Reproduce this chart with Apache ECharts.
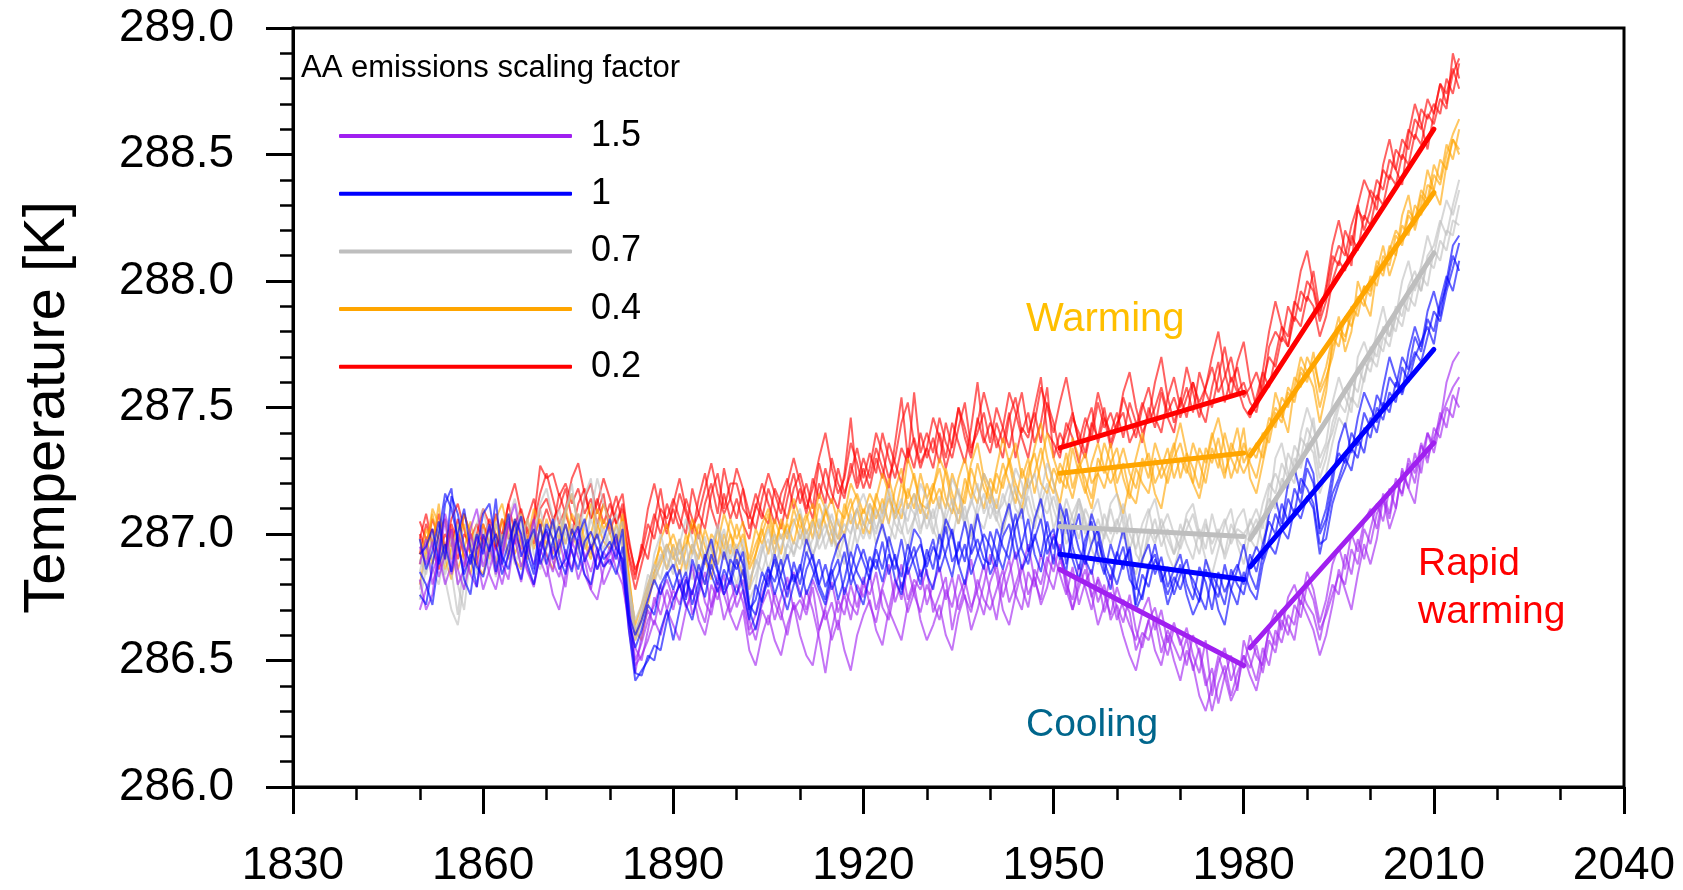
<!DOCTYPE html>
<html>
<head>
<meta charset="utf-8">
<script src="https://cdn.jsdelivr.net/npm/echarts@6/dist/echarts.min.js"></script>
<style>
html, body { margin: 0; padding: 0; background: #ffffff; }
#chart { width: 1683px; height: 890px; }
</style>
</head>
<body>
<div id="chart"></div>
<script>
const FONT = '"Liberation Sans", Arial, Helvetica, sans-serif';

// Annual global-mean surface temperature [K], 1850-2014, four ensemble members per
// anthropogenic-aerosol (AA) emissions scaling factor.
const startYear = 1850;
const scalingFactors = ['1.5', '1', '0.7', '0.4', '0.2'];
const factorColors = ['#a020f0', '#0000ff', '#bebebe', '#ffa500', '#ff0000'];

const aa15_m1 = [
  286.95, 286.88, 286.97, 286.83, 286.92, 287.02, 286.86, 286.78, 286.90, 286.99,
  286.87, 286.96, 286.84, 286.93, 287.05, 286.90, 286.81, 286.95, 286.88, 286.97,
  286.92, 286.85, 286.98, 286.87, 286.94, 286.82, 286.90, 286.96, 286.86, 286.93,
  286.88, 286.95, 286.90, 286.72, 286.50, 286.57, 286.66, 286.72, 286.80, 286.70,
  286.78, 286.72, 286.83, 286.68, 286.76, 286.85, 286.71, 286.79, 286.66, 286.74,
  286.80, 286.73, 286.60, 286.63, 286.72, 286.78, 286.66, 286.75, 286.83, 286.70,
  286.74, 286.68, 286.79, 286.62, 286.71, 286.81, 286.69, 286.76, 286.66, 286.80,
  286.75, 286.84, 286.70, 286.79, 286.88, 286.73, 286.81, 286.69, 286.77, 286.86,
  286.72, 286.80, 286.87, 286.74, 286.83, 286.70, 286.79, 286.90, 286.76, 286.68,
  286.81, 286.88, 286.75, 286.84, 286.93, 286.79, 286.71, 286.86, 286.80, 286.91,
  286.85, 286.96, 286.80, 286.74, 286.88, 286.79, 286.70, 286.83, 286.76, 286.68,
  286.79, 286.71, 286.64, 286.58, 286.69, 286.75, 286.62, 286.70, 286.57, 286.65,
  286.56, 286.63, 286.52, 286.45, 286.58, 286.36, 286.49, 286.55, 286.42, 286.50,
  286.47, 286.60, 286.52, 286.48, 286.63, 286.70, 286.62, 286.75, 286.80, 286.72,
  286.85, 286.78, 286.65, 286.74, 286.88, 286.95, 286.86, 287.00, 286.93, 287.05,
  287.10, 287.02, 287.16, 287.08, 287.22, 287.15, 287.28, 287.20, 287.35, 287.30,
  287.38, 287.45, 287.52, 287.58, 287.62
];
const aa15_m2 = [
  286.70, 286.78, 286.85, 286.92, 286.80, 286.88, 287.00, 286.93, 286.84, 286.79,
  286.95, 287.03, 286.89, 286.80, 286.92, 286.98, 286.87, 286.94, 287.06, 286.90,
  286.83, 286.95, 286.88, 286.79, 286.97, 286.91, 286.84, 286.78, 286.92, 286.87,
  286.95, 286.86, 286.80, 286.65, 286.55, 286.50, 286.62, 286.75, 286.68, 286.78,
  286.70, 286.82, 286.75, 286.88, 286.72, 286.65, 286.80, 286.74, 286.84, 286.69,
  286.76, 286.82, 286.66, 286.58, 286.70, 286.64, 286.77, 286.69, 286.60, 286.73,
  286.66, 286.78, 286.70, 286.59, 286.45, 286.62, 286.74, 286.68, 286.80, 286.71,
  286.83, 286.72, 286.65, 286.78, 286.70, 286.82, 286.74, 286.87, 286.76, 286.69,
  286.80, 286.73, 286.66, 286.78, 286.71, 286.84, 286.75, 286.69, 286.82, 286.74,
  286.70, 286.78, 286.86, 286.73, 286.80, 286.88, 286.76, 286.83, 286.72, 286.79,
  286.92, 286.84, 286.76, 286.87, 286.72, 286.81, 286.86, 286.73, 286.80, 286.66,
  286.72, 286.65, 286.76, 286.62, 286.55, 286.66, 286.71, 286.60, 286.52, 286.63,
  286.58, 286.48, 286.60, 286.53, 286.40, 286.47, 286.33, 286.44, 286.52, 286.38,
  286.58, 286.50, 286.42, 286.55, 286.48, 286.62, 286.57, 286.68, 286.64, 286.78,
  286.72, 286.68, 286.58, 286.70, 286.80, 286.76, 286.92, 286.84, 286.98, 286.90,
  287.02, 287.12, 287.05, 287.18, 287.10, 287.25, 287.18, 287.32, 287.24, 287.40,
  287.35, 287.48, 287.42, 287.55, 287.50
];
const aa15_m3 = [
  286.88, 286.98, 286.80, 286.90, 287.06, 286.84, 286.95, 286.87, 287.00, 286.91,
  286.78, 286.86, 286.95, 286.88, 286.82, 287.00, 286.93, 286.85, 286.79, 286.92,
  287.01, 286.89, 286.83, 286.94, 286.86, 286.98, 286.92, 286.85, 286.95, 286.80,
  286.86, 286.93, 286.84, 286.62, 286.45, 286.60, 286.70, 286.64, 286.76, 286.82,
  286.74, 286.80, 286.71, 286.77, 286.85, 286.73, 286.68, 286.81, 286.76, 286.83,
  286.71, 286.78, 286.62, 286.68, 286.76, 286.84, 286.73, 286.66, 286.79, 286.85,
  286.77, 286.70, 286.82, 286.75, 286.66, 286.73, 286.62, 286.79, 286.72, 286.68,
  286.80, 286.76, 286.85, 286.71, 286.66, 286.79, 286.88, 286.74, 286.82, 286.78,
  286.86, 286.69, 286.76, 286.83, 286.62, 286.75, 286.82, 286.71, 286.78, 286.88,
  286.77, 286.66, 286.82, 286.90, 286.76, 286.70, 286.85, 286.79, 286.92, 286.84,
  286.78, 286.90, 286.83, 286.70, 286.79, 286.86, 286.75, 286.82, 286.69, 286.77,
  286.66, 286.74, 286.69, 286.54, 286.61, 286.58, 286.67, 286.53, 286.62, 286.56,
  286.50, 286.59, 286.46, 286.55, 286.43, 286.30, 286.41, 286.48, 286.36, 286.45,
  286.52, 286.47, 286.56, 286.45, 286.58, 286.53, 286.66, 286.60, 286.72, 286.67,
  286.80, 286.74, 286.62, 286.68, 286.76, 286.84, 286.80, 286.94, 286.88, 287.02,
  286.96, 287.08, 287.14, 287.06, 287.20, 287.16, 287.30, 287.24, 287.36, 287.28,
  287.42, 287.38, 287.50, 287.46, 287.58
];
const aa15_m4 = [
  286.82, 286.70, 286.76, 286.95, 287.08, 286.98, 286.80, 286.86, 287.02, 287.10,
  286.96, 286.84, 286.78, 286.90, 287.04, 287.12, 286.98, 286.86, 286.80, 286.94,
  286.88, 286.76, 286.70, 286.84, 286.96, 287.02, 286.90, 286.78, 286.74, 286.86,
  286.92, 286.98, 286.88, 286.66, 286.48, 286.52, 286.58, 286.66, 286.60, 286.70,
  286.64, 286.58, 286.70, 286.78, 286.66, 286.60, 286.72, 286.84, 286.76, 286.68,
  286.62, 286.70, 286.54, 286.48, 286.60, 286.68, 286.58, 286.52, 286.64, 286.72,
  286.60, 286.52, 286.48, 286.62, 286.70, 286.58, 286.66, 286.54, 286.46, 286.60,
  286.68, 286.74, 286.62, 286.56, 286.70, 286.64, 286.58, 286.72, 286.80, 286.66,
  286.58, 286.64, 286.72, 286.60, 286.54, 286.68, 286.76, 286.62, 286.70, 286.80,
  286.92, 286.84, 286.70, 286.64, 286.76, 286.86, 286.96, 286.82, 286.74, 286.88,
  287.00, 286.94, 286.78, 286.70, 286.82, 286.90, 286.76, 286.64, 286.72, 286.84,
  286.70, 286.60, 286.52, 286.46, 286.58, 286.66, 286.54, 286.48, 286.60, 286.50,
  286.42, 286.54, 286.48, 286.36, 286.30, 286.40, 286.52, 286.44, 286.34, 286.40,
  286.52, 286.44, 286.38, 286.50, 286.62, 286.56, 286.70, 286.64, 286.58, 286.74,
  286.68, 286.62, 286.52, 286.60, 286.72, 286.86, 286.78, 286.70, 286.84, 286.96,
  286.88, 286.98, 287.14, 287.02, 287.10, 287.26, 287.18, 287.12, 287.30, 287.40,
  287.32, 287.44, 287.60, 287.68, 287.72
];

const aa10_m1 = [
  286.98, 286.86, 286.93, 287.05, 286.90, 287.15, 287.08, 286.95, 286.88, 287.00,
  286.92, 287.04, 286.85, 286.97, 287.08, 286.90, 286.82, 286.96, 287.02, 286.88,
  286.95, 287.06, 286.91, 286.84, 286.98, 287.03, 286.89, 286.95, 286.86, 286.93,
  286.97, 286.90, 287.02, 286.70, 286.45, 286.44, 286.52, 286.50, 286.62, 286.70,
  286.58, 286.70, 286.82, 286.76, 286.88, 286.80, 286.92, 286.85, 286.78, 286.90,
  286.86, 286.93, 286.72, 286.68, 286.80, 286.87, 286.76, 286.84, 286.92, 286.81,
  286.88, 286.76, 286.83, 286.90, 286.79, 286.86, 286.74, 286.82, 286.93, 286.85,
  286.80, 286.91, 286.86, 286.97, 286.84, 286.92, 286.78, 286.88, 286.95, 286.83,
  286.90, 286.98, 286.85, 286.93, 287.02, 286.88, 286.96, 286.84, 286.92, 287.00,
  286.95, 286.87, 286.99, 287.04, 286.90, 286.96, 287.06, 286.92, 286.85, 286.98,
  287.02, 286.90, 287.10, 286.95, 286.86, 286.98, 287.05, 286.92, 286.84, 286.96,
  286.88, 286.95, 286.82, 286.78, 286.90, 286.96, 286.84, 286.91, 286.79, 286.86,
  286.92, 286.80, 286.74, 286.87, 286.81, 286.70, 286.85, 286.77, 286.83, 286.88,
  286.80, 286.92, 286.85, 286.96, 287.05, 287.00, 287.12, 287.05, 287.18, 287.12,
  287.26, 287.20, 287.02, 287.10, 287.24, 287.32, 287.28, 287.40, 287.35, 287.48,
  287.42, 287.55, 287.50, 287.62, 287.58, 287.70, 287.65, 287.78, 287.72, 287.85,
  287.80, 287.92, 288.02, 287.96, 288.08
];
const aa10_m2 = [
  286.85, 286.80, 286.72, 286.90, 287.12, 287.18, 286.96, 286.84, 286.92, 286.79,
  287.00, 286.93, 287.14, 286.88, 286.96, 287.05, 286.91, 286.98, 286.86, 287.04,
  286.88, 286.97, 287.03, 286.92, 286.85, 286.99, 287.06, 286.94, 287.00, 286.90,
  286.93, 287.00, 286.86, 286.65, 286.55, 286.62, 286.72, 286.68, 286.80, 286.85,
  286.78, 286.86, 286.74, 286.90, 286.82, 286.75, 286.88, 286.80, 286.93, 286.84,
  286.76, 286.86, 286.70, 286.74, 286.85, 286.79, 286.92, 286.83, 286.75, 286.89,
  286.80, 286.93, 286.86, 286.78, 286.72, 286.84, 286.90, 286.76, 286.85, 286.96,
  286.89, 286.82, 286.94, 286.86, 286.99, 286.90, 286.83, 286.96, 286.88, 286.80,
  286.94, 286.86, 287.00, 286.91, 286.83, 286.97, 286.89, 287.04, 286.93, 286.86,
  287.01, 286.93, 286.86, 286.97, 287.08, 286.94, 286.88, 287.00, 286.91, 287.05,
  286.94, 287.05, 286.88, 286.99, 287.08, 286.90, 286.84, 286.97, 286.89, 286.82,
  286.93, 286.86, 286.95, 286.80, 286.74, 286.88, 286.92, 286.81, 286.87, 286.76,
  286.84, 286.90, 286.79, 286.73, 286.86, 286.80, 286.75, 286.88, 286.78, 286.72,
  286.85, 286.78, 286.74, 286.88, 286.96, 286.92, 287.02, 286.98, 287.10, 287.06,
  287.15, 287.10, 286.92, 287.04, 287.16, 287.22, 287.30, 287.25, 287.38, 287.32,
  287.46, 287.40, 287.52, 287.48, 287.60, 287.55, 287.64, 287.72, 287.68, 287.78,
  287.88, 287.84, 287.96, 288.05, 288.15
];
const aa10_m3 = [
  286.92, 286.95, 287.02, 286.88, 286.96, 286.85, 287.00, 287.10, 286.94, 286.87,
  286.83, 286.94, 287.00, 286.91, 286.86, 286.99, 287.07, 286.92, 286.84, 286.96,
  287.02, 286.90, 286.95, 287.04, 286.93, 286.86, 286.97, 287.01, 286.94, 286.87,
  286.90, 286.84, 286.95, 286.68, 286.60, 286.66, 286.74, 286.82, 286.76, 286.84,
  286.88, 286.79, 286.85, 286.72, 286.81, 286.92, 286.84, 286.77, 286.86, 286.80,
  286.90, 286.78, 286.66, 286.80, 286.73, 286.86, 286.81, 286.90, 286.78, 286.84,
  286.75, 286.86, 286.92, 286.80, 286.88, 286.78, 286.84, 286.93, 286.80, 286.87,
  286.94, 286.85, 286.90, 286.81, 286.92, 286.86, 286.98, 286.84, 286.91, 286.96,
  286.87, 286.95, 286.90, 287.03, 286.89, 286.94, 287.05, 286.92, 286.98, 286.90,
  286.88, 287.02, 286.95, 286.90, 287.03, 287.10, 286.93, 286.98, 287.06, 286.92,
  286.99, 286.93, 286.85, 287.04, 286.94, 286.88, 286.96, 287.02, 286.91, 286.87,
  286.80, 286.89, 286.94, 286.72, 286.84, 286.79, 286.90, 286.85, 286.76, 286.83,
  286.78, 286.86, 286.82, 286.76, 286.70, 286.84, 286.79, 286.72, 286.86, 286.80,
  286.76, 286.88, 286.95, 286.90, 286.98, 287.08, 287.02, 287.14, 287.08, 287.22,
  287.18, 287.12, 286.96, 286.98, 287.12, 287.20, 287.26, 287.34, 287.30, 287.42,
  287.38, 287.50, 287.45, 287.56, 287.52, 287.66, 287.60, 287.70, 287.76, 287.82,
  287.75, 287.90, 287.98, 288.10, 288.04
];
const aa10_m4 = [
  286.76, 286.72, 286.88, 287.00, 287.16, 287.10, 286.98, 286.82, 286.76, 286.94,
  287.08, 287.12, 286.96, 286.84, 286.92, 287.06, 287.00, 286.88, 286.80, 286.92,
  287.04, 286.98, 286.86, 286.90, 287.02, 286.96, 286.84, 286.80, 286.92, 286.98,
  287.06, 286.94, 286.90, 286.62, 286.42, 286.46, 286.50, 286.56, 286.54, 286.66,
  286.74, 286.80, 286.72, 286.66, 286.78, 286.90, 286.98, 286.86, 286.76, 286.82,
  286.94, 286.88, 286.70, 286.62, 286.74, 286.82, 286.90, 286.78, 286.70, 286.80,
  286.86, 286.98, 286.90, 286.80, 286.74, 286.88, 286.96, 287.00, 286.86, 286.78,
  286.72, 286.84, 286.96, 287.04, 286.94, 286.82, 286.76, 286.90, 287.02, 286.98,
  286.84, 286.78, 286.92, 287.06, 287.00, 286.88, 286.80, 286.94, 287.08, 286.96,
  286.84, 286.90, 287.04, 287.12, 286.98, 286.86, 286.92, 287.06, 287.14, 287.00,
  286.88, 287.12, 287.04, 286.90, 286.82, 286.94, 287.08, 287.00, 286.86, 286.78,
  286.92, 287.02, 286.88, 286.70, 286.76, 286.86, 286.96, 286.84, 286.72, 286.80,
  286.88, 286.76, 286.68, 286.74, 286.90, 286.82, 286.70, 286.64, 286.78, 286.86,
  286.96, 286.84, 286.78, 286.92, 287.08, 287.14, 287.04, 287.20, 287.26, 287.16,
  287.30, 287.24, 287.00, 287.06, 287.20, 287.36, 287.44, 287.32, 287.46, 287.56,
  287.50, 287.44, 287.58, 287.70, 287.62, 287.56, 287.72, 287.82, 287.74, 287.88,
  287.96, 287.86, 288.00, 288.14, 288.18
];

const aa07_m1 = [
  286.90, 286.84, 286.96, 287.02, 286.88, 286.98, 286.80, 286.70, 286.92, 287.00,
  286.95, 286.88, 287.05, 286.97, 286.90, 287.02, 286.86, 286.94, 287.00, 287.10,
  286.98, 287.04, 286.92, 287.08, 287.20, 287.00, 286.94, 287.06, 286.98, 287.02,
  286.96, 287.03, 286.94, 286.80, 286.62, 286.68, 286.78, 286.84, 286.92, 286.86,
  286.95, 286.88, 286.96, 286.82, 286.92, 286.99, 286.86, 286.94, 287.02, 286.90,
  286.96, 286.88, 286.78, 286.84, 286.93, 286.98, 286.87, 286.95, 287.02, 286.91,
  287.00, 286.92, 286.98, 287.06, 286.94, 287.02, 286.90, 286.99, 287.08, 286.96,
  287.05, 286.98, 287.10, 287.02, 286.95, 287.08, 287.14, 287.00, 287.06, 287.12,
  287.02, 287.10, 286.98, 287.06, 287.14, 287.04, 287.11, 286.99, 287.08, 287.16,
  287.06, 287.14, 287.02, 287.10, 287.19, 287.08, 287.15, 287.05, 287.12, 287.20,
  287.10, 287.02, 287.14, 287.06, 286.98, 287.10, 287.04, 286.96, 287.08, 287.00,
  287.06, 286.98, 287.08, 286.92, 286.88, 287.02, 286.96, 287.06, 286.98, 286.92,
  287.04, 286.96, 286.90, 287.02, 286.94, 287.08, 286.98, 286.92, 287.04, 286.98,
  286.94, 287.06, 287.00, 287.12, 287.20, 287.16, 287.28, 287.22, 287.35, 287.30,
  287.42, 287.36, 287.22, 287.30, 287.44, 287.52, 287.48, 287.60, 287.56, 287.68,
  287.64, 287.76, 287.72, 287.84, 287.80, 287.92, 287.88, 288.00, 287.96, 288.08,
  288.05, 288.16, 288.12, 288.24, 288.22
];
const aa07_m2 = [
  286.78, 286.92, 286.86, 286.80, 286.95, 286.85, 286.68, 286.90, 286.98, 286.84,
  286.90, 286.98, 286.83, 286.92, 287.00, 286.88, 286.95, 287.06, 286.92, 286.86,
  286.94, 287.02, 287.10, 286.96, 287.04, 286.92, 287.15, 287.22, 287.00, 286.94,
  287.02, 286.95, 287.00, 286.78, 286.66, 286.72, 286.84, 286.80, 286.90, 286.96,
  286.86, 286.94, 286.88, 286.96, 286.84, 286.92, 286.98, 286.88, 286.94, 286.85,
  286.92, 286.98, 286.82, 286.88, 286.96, 286.86, 286.94, 287.00, 286.90, 286.97,
  286.94, 287.02, 286.92, 286.98, 287.04, 286.95, 287.06, 286.98, 286.92, 287.04,
  286.98, 287.06, 287.00, 287.12, 287.04, 286.98, 287.10, 287.05, 287.16, 287.02,
  287.08, 287.00, 287.12, 287.05, 286.98, 287.10, 287.04, 287.14, 287.06, 287.02,
  287.12, 287.05, 287.16, 287.08, 287.02, 287.14, 287.22, 287.10, 287.05, 287.16,
  287.02, 287.10, 287.00, 287.08, 287.14, 287.04, 286.96, 287.06, 286.98, 287.10,
  287.00, 287.08, 286.94, 287.02, 286.90, 286.98, 287.06, 286.95, 287.02, 286.92,
  286.98, 287.06, 287.00, 286.92, 287.04, 286.96, 287.02, 286.90, 286.98, 287.06,
  287.10, 286.98, 286.94, 287.06, 287.14, 287.10, 287.22, 287.18, 287.30, 287.26,
  287.36, 287.32, 287.16, 287.24, 287.36, 287.46, 287.42, 287.54, 287.50, 287.62,
  287.70, 287.66, 287.78, 287.74, 287.86, 287.82, 287.94, 287.90, 288.02, 287.98,
  288.12, 288.08, 288.20, 288.18, 288.30
];
const aa07_m3 = [
  286.85, 286.96, 286.90, 286.98, 286.84, 286.92, 287.04, 286.95, 286.88, 286.96,
  287.02, 286.94, 286.90, 287.00, 286.92, 286.98, 287.08, 286.96, 287.04, 286.95,
  287.00, 286.94, 287.06, 287.00, 286.96, 287.08, 287.02, 286.95, 287.06, 287.00,
  286.94, 287.00, 287.05, 286.76, 286.60, 286.70, 286.80, 286.88, 286.82, 286.94,
  286.90, 286.98, 286.84, 286.92, 287.00, 286.88, 286.95, 287.02, 286.90, 286.96,
  286.88, 286.95, 286.80, 286.90, 286.85, 286.94, 287.00, 286.88, 286.96, 286.92,
  287.02, 286.96, 287.05, 286.94, 287.00, 287.08, 286.98, 287.04, 287.00, 287.10,
  287.04, 287.12, 287.02, 287.08, 287.15, 287.04, 287.00, 287.12, 287.08, 287.00,
  287.12, 287.06, 287.15, 287.00, 287.10, 287.18, 287.06, 287.12, 287.20, 287.08,
  287.15, 287.08, 287.12, 287.20, 287.10, 287.06, 287.18, 287.24, 287.12, 287.08,
  287.15, 287.06, 287.10, 287.02, 287.12, 287.00, 287.08, 287.14, 287.02, 286.96,
  287.04, 287.12, 287.00, 286.94, 287.04, 287.10, 286.98, 287.02, 287.08, 287.00,
  286.94, 287.02, 287.08, 286.98, 287.06, 286.92, 287.00, 287.06, 286.96, 287.02,
  287.00, 287.04, 287.10, 287.02, 287.18, 287.24, 287.18, 287.32, 287.26, 287.38,
  287.34, 287.46, 287.26, 287.34, 287.40, 287.50, 287.58, 287.52, 287.66, 287.60,
  287.74, 287.70, 287.82, 287.78, 287.90, 287.86, 287.98, 288.04, 287.96, 288.10,
  288.14, 288.24, 288.18, 288.30, 288.40
];
const aa07_m4 = [
  286.74, 286.86, 287.00, 286.94, 286.82, 286.70, 286.64, 286.80, 286.92, 287.04,
  287.10, 286.98, 286.86, 286.94, 287.06, 287.14, 287.02, 286.92, 287.00, 287.12,
  287.18, 287.06, 286.98, 287.10, 287.16, 287.04, 286.96, 287.08, 287.22, 287.12,
  287.04, 287.08, 286.96, 286.74, 286.58, 286.64, 286.74, 286.92, 287.00, 286.90,
  286.84, 286.96, 287.06, 286.98, 286.86, 286.80, 286.92, 287.04, 286.96, 286.88,
  286.80, 286.90, 286.74, 286.80, 286.94, 287.02, 286.92, 286.84, 286.96, 287.04,
  287.10, 286.98, 286.90, 287.02, 287.12, 287.04, 286.94, 286.88, 287.00, 287.10,
  287.16, 287.08, 286.96, 287.06, 287.18, 287.10, 287.02, 286.94, 287.06, 287.20,
  287.14, 287.02, 286.96, 287.10, 287.22, 287.16, 287.04, 286.98, 287.12, 287.24,
  287.18, 287.06, 287.00, 287.14, 287.26, 287.20, 287.08, 287.02, 287.16, 287.28,
  287.20, 287.08, 286.96, 287.02, 287.14, 287.06, 286.94, 286.88, 287.00, 287.12,
  287.16, 287.04, 286.90, 286.84, 286.96, 287.08, 287.14, 287.02, 286.92, 286.86,
  286.96, 287.08, 287.12, 287.00, 286.90, 286.84, 286.94, 287.04, 287.10, 286.96,
  286.88, 287.00, 287.06, 286.96, 287.10, 287.30, 287.36, 287.24, 287.20, 287.40,
  287.50, 287.42, 287.30, 287.36, 287.52, 287.62, 287.54, 287.48, 287.70, 287.76,
  287.68, 287.80, 287.90, 287.78, 287.86, 288.00, 288.08, 287.96, 288.06, 288.18,
  288.10, 288.22, 288.32, 288.26, 288.36
];

const aa04_m1 = [
  286.88, 287.02, 286.95, 287.12, 286.90, 287.00, 286.86, 286.94, 287.05, 286.92,
  286.98, 286.90, 287.04, 286.95, 287.08, 286.92, 286.99, 287.06, 286.94, 287.02,
  286.96, 287.05, 286.98, 287.10, 287.00, 286.94, 287.04, 287.12, 286.98, 287.06,
  287.00, 286.94, 287.06, 286.82, 286.64, 286.72, 286.80, 286.88, 286.95, 286.86,
  286.96, 286.88, 287.00, 286.92, 287.04, 286.95, 286.88, 287.02, 286.94, 287.06,
  286.98, 287.05, 286.86, 286.92, 287.00, 287.08, 286.96, 287.04, 286.98, 287.10,
  287.02, 287.08, 286.98, 287.12, 287.04, 286.96, 287.10, 287.06, 287.14, 287.02,
  287.10, 287.04, 287.16, 287.08, 287.22, 287.12, 287.06, 287.18, 287.10, 287.24,
  287.14, 287.20, 287.10, 287.26, 287.16, 287.08, 287.22, 287.14, 287.28, 287.18,
  287.12, 287.24, 287.18, 287.30, 287.20, 287.14, 287.26, 287.32, 287.20, 287.16,
  287.26, 287.20, 287.32, 287.18, 287.28, 287.22, 287.14, 287.30, 287.24, 287.36,
  287.20, 287.28, 287.16, 287.12, 287.26, 287.32, 287.20, 287.26, 287.34, 287.22,
  287.30, 287.24, 287.36, 287.28, 287.20, 287.34, 287.26, 287.40, 287.30, 287.24,
  287.36, 287.28, 287.22, 287.34, 287.46, 287.42, 287.54, 287.50, 287.62, 287.58,
  287.70, 287.64, 287.50, 287.60, 287.74, 287.80, 287.76, 287.90, 287.86, 287.98,
  287.94, 288.06, 288.02, 288.14, 288.10, 288.22, 288.18, 288.30, 288.26, 288.38,
  288.36, 288.48, 288.44, 288.56, 288.52
];
const aa04_m2 = [
  286.98, 286.90, 287.08, 286.96, 286.86, 286.94, 287.04, 286.90, 286.84, 286.98,
  287.04, 286.94, 286.88, 287.00, 286.92, 287.06, 286.96, 286.90, 287.02, 286.95,
  287.06, 286.98, 286.92, 287.04, 286.96, 287.08, 286.98, 286.92, 287.04, 286.97,
  286.94, 287.04, 286.96, 286.75, 286.60, 286.68, 286.78, 286.85, 286.90, 286.96,
  286.90, 286.98, 286.86, 286.96, 286.90, 287.02, 286.94, 286.88, 287.00, 286.92,
  287.04, 286.94, 286.88, 286.96, 287.02, 286.92, 287.06, 286.98, 287.04, 286.96,
  287.08, 287.00, 287.06, 286.98, 287.10, 287.04, 286.98, 287.12, 287.04, 287.10,
  287.00, 287.12, 287.06, 287.14, 287.04, 287.18, 287.26, 287.10, 287.16, 287.08,
  287.20, 287.12, 287.18, 287.10, 287.24, 287.16, 287.12, 287.26, 287.18, 287.10,
  287.22, 287.16, 287.28, 287.20, 287.12, 287.26, 287.18, 287.24, 287.34, 287.22,
  287.16, 287.28, 287.22, 287.14, 287.26, 287.32, 287.20, 287.24, 287.18, 287.28,
  287.34, 287.22, 287.14, 287.26, 287.20, 287.16, 287.30, 287.22, 287.28, 287.36,
  287.22, 287.32, 287.26, 287.18, 287.34, 287.28, 287.38, 287.24, 287.32, 287.42,
  287.28, 287.34, 287.30, 287.40, 287.36, 287.48, 287.44, 287.56, 287.52, 287.64,
  287.60, 287.72, 287.56, 287.62, 287.70, 287.82, 287.78, 287.86, 287.94, 287.90,
  288.02, 287.98, 288.10, 288.06, 288.18, 288.14, 288.26, 288.22, 288.34, 288.30,
  288.42, 288.38, 288.50, 288.58, 288.64
];
const aa04_m3 = [
  286.92, 286.98, 286.88, 287.00, 287.06, 286.90, 286.96, 287.04, 286.92, 287.00,
  286.94, 287.02, 286.96, 287.06, 286.90, 287.00, 287.08, 286.94, 286.98, 287.06,
  287.00, 286.92, 287.04, 286.96, 287.08, 287.02, 286.94, 287.00, 287.10, 287.02,
  287.06, 286.98, 287.02, 286.78, 286.58, 286.66, 286.76, 286.82, 286.88, 286.94,
  287.00, 286.92, 286.96, 287.04, 286.94, 286.88, 287.00, 286.96, 286.90, 287.00,
  286.94, 287.00, 286.90, 287.02, 286.96, 287.04, 286.92, 287.06, 287.00, 287.06,
  286.98, 287.06, 287.12, 287.02, 287.08, 287.14, 287.04, 287.00, 287.10, 287.16,
  287.08, 287.16, 287.10, 287.04, 287.14, 287.08, 287.20, 287.14, 287.24, 287.12,
  287.10, 287.18, 287.26, 287.14, 287.08, 287.22, 287.30, 287.18, 287.12, 287.24,
  287.18, 287.10, 287.22, 287.28, 287.36, 287.22, 287.30, 287.16, 287.28, 287.40,
  287.30, 287.22, 287.18, 287.34, 287.24, 287.16, 287.28, 287.36, 287.26, 287.20,
  287.26, 287.34, 287.24, 287.18, 287.30, 287.22, 287.36, 287.28, 287.20, 287.30,
  287.36, 287.26, 287.20, 287.34, 287.28, 287.40, 287.30, 287.22, 287.36, 287.30,
  287.24, 287.30, 287.36, 287.30, 287.42, 287.50, 287.46, 287.58, 287.54, 287.66,
  287.62, 287.68, 287.58, 287.66, 287.78, 287.74, 287.86, 287.82, 287.90, 287.98,
  287.96, 288.08, 288.04, 288.12, 288.20, 288.16, 288.28, 288.24, 288.36, 288.32,
  288.46, 288.40, 288.54, 288.48, 288.60
];
const aa04_m4 = [
  286.80, 286.94, 287.10, 287.04, 286.90, 286.82, 286.96, 287.08, 287.00, 286.88,
  286.84, 286.96, 287.06, 287.12, 287.00, 286.90, 286.86, 286.98, 287.10, 287.04,
  286.92, 286.86, 286.98, 287.08, 287.16, 287.04, 286.96, 286.90, 287.02, 287.12,
  287.04, 286.96, 287.08, 286.84, 286.62, 286.58, 286.72, 286.84, 286.98, 287.04,
  286.92, 286.84, 286.94, 287.06, 287.00, 286.90, 286.82, 286.96, 287.08, 287.00,
  286.90, 286.84, 286.78, 286.92, 287.04, 287.10, 287.00, 286.92, 287.06, 287.14,
  287.06, 286.96, 287.04, 287.16, 287.10, 287.00, 286.94, 287.08, 287.20, 287.14,
  287.04, 287.00, 287.14, 287.24, 287.16, 287.06, 287.12, 287.30, 287.22, 287.12,
  287.06, 287.18, 287.30, 287.24, 287.12, 287.04, 287.16, 287.28, 287.36, 287.22,
  287.14, 287.26, 287.38, 287.28, 287.16, 287.10, 287.22, 287.34, 287.44, 287.30,
  287.20, 287.12, 287.26, 287.38, 287.30, 287.18, 287.10, 287.24, 287.36, 287.28,
  287.16, 287.08, 287.20, 287.30, 287.40, 287.28, 287.16, 287.10, 287.24, 287.34,
  287.44, 287.32, 287.20, 287.14, 287.26, 287.38, 287.46, 287.34, 287.22, 287.30,
  287.42, 287.22, 287.16, 287.28, 287.40, 287.56, 287.48, 287.40, 287.58, 287.70,
  287.64, 287.58, 287.44, 287.56, 287.76, 287.86, 287.72, 287.80, 288.00, 287.92,
  287.86, 288.04, 288.14, 288.02, 288.10, 288.26, 288.34, 288.20, 288.30, 288.44,
  288.36, 288.30, 288.46, 288.56, 288.50
];

const aa02_m1 = [
  287.05, 286.98, 287.02, 286.92, 287.00, 286.95, 287.06, 286.90, 286.98, 287.04,
  286.96, 287.02, 286.94, 287.06, 286.98, 287.04, 287.10, 287.00, 287.06, 287.27,
  287.22, 287.24, 287.15, 287.20, 287.12, 287.18, 287.08, 287.14, 287.04, 287.12,
  287.06, 287.15, 287.04, 286.92, 286.82, 286.96, 286.90, 287.05, 287.18, 287.02,
  287.10, 287.02, 287.14, 287.06, 286.98, 287.12, 287.20, 287.08, 287.26, 287.14,
  287.06, 287.18, 287.02, 287.10, 287.20, 287.12, 287.04, 287.16, 287.22, 287.10,
  287.18, 287.08, 287.22, 287.14, 287.26, 287.16, 287.10, 287.24, 287.46, 287.20,
  287.30, 287.22, 287.34, 287.26, 287.18, 287.36, 287.54, 287.30, 287.38, 287.28,
  287.34, 287.26, 287.40, 287.30, 287.44, 287.36, 287.28, 287.42, 287.60, 287.38,
  287.32, 287.44, 287.36, 287.48, 287.30, 287.42, 287.38, 287.50, 287.62, 287.40,
  287.36, 287.30, 287.44, 287.38, 287.28, 287.42, 287.50, 287.36, 287.46, 287.40,
  287.48, 287.38, 287.52, 287.44, 287.36, 287.50, 287.42, 287.56, 287.46, 287.40,
  287.54, 287.46, 287.60, 287.50, 287.44, 287.58, 287.68, 287.52, 287.62, 287.56,
  287.60, 287.52, 287.48, 287.60, 287.70, 287.66, 287.78, 287.74, 287.86, 287.82,
  287.94, 287.90, 287.78, 287.86, 288.00, 288.08, 288.04, 288.18, 288.12, 288.26,
  288.22, 288.34, 288.30, 288.42, 288.38, 288.50, 288.46, 288.58, 288.54, 288.66,
  288.62, 288.72, 288.68, 288.90, 288.80
];
const aa02_m2 = [
  286.92, 287.04, 286.96, 287.08, 286.94, 287.02, 286.90, 287.00, 286.96, 286.88,
  287.04, 286.96, 287.08, 286.98, 287.12, 287.00, 286.94, 287.06, 287.14, 287.02,
  287.10, 287.02, 287.16, 287.08, 287.00, 287.12, 287.18, 287.06, 287.14, 287.04,
  287.12, 287.04, 287.10, 286.90, 286.78, 286.88, 286.98, 287.08, 287.00, 287.12,
  287.04, 287.16, 287.08, 287.00, 287.14, 287.24, 287.10, 287.02, 287.16, 287.06,
  287.14, 287.04, 286.98, 287.12, 287.06, 287.18, 287.10, 287.02, 287.14, 287.24,
  287.12, 287.20, 287.10, 287.28, 287.18, 287.12, 287.26, 287.16, 287.24, 287.34,
  287.22, 287.32, 287.24, 287.40, 287.30, 287.22, 287.34, 287.28, 287.56, 287.32,
  287.40, 287.32, 287.46, 287.36, 287.30, 287.42, 287.52, 287.34, 287.40, 287.48,
  287.36, 287.50, 287.42, 287.34, 287.46, 287.56, 287.40, 287.48, 287.36, 287.52,
  287.44, 287.32, 287.40, 287.48, 287.36, 287.46, 287.38, 287.52, 287.42, 287.48,
  287.40, 287.54, 287.46, 287.38, 287.50, 287.58, 287.46, 287.40, 287.54, 287.62,
  287.50, 287.58, 287.48, 287.64, 287.56, 287.50, 287.62, 287.74, 287.60, 287.66,
  287.54, 287.58, 287.64, 287.56, 287.74, 287.80, 287.76, 287.90, 287.84, 287.96,
  287.92, 288.04, 287.88, 287.96, 288.10, 288.06, 288.20, 288.14, 288.28, 288.24,
  288.36, 288.32, 288.44, 288.40, 288.52, 288.48, 288.60, 288.56, 288.68, 288.64,
  288.70, 288.66, 288.80, 288.74, 288.86
];
const aa02_m3 = [
  287.00, 286.94, 287.06, 286.98, 286.90, 287.04, 286.96, 287.08, 287.00, 286.94,
  286.98, 287.06, 287.00, 286.92, 287.04, 286.96, 287.08, 287.02, 286.96, 287.10,
  287.14, 287.06, 287.10, 287.18, 287.06, 287.02, 287.14, 287.20, 287.08, 287.16,
  287.00, 287.10, 287.16, 286.96, 286.86, 286.92, 287.04, 286.98, 287.10, 287.06,
  287.14, 287.06, 287.00, 287.18, 287.08, 287.02, 287.16, 287.24, 287.10, 287.20,
  287.20, 287.10, 287.06, 287.16, 287.08, 287.04, 287.18, 287.12, 287.06, 287.18,
  287.24, 287.14, 287.06, 287.20, 287.12, 287.30, 287.20, 287.14, 287.28, 287.18,
  287.26, 287.18, 287.30, 287.22, 287.36, 287.28, 287.20, 287.34, 287.26, 287.40,
  287.30, 287.38, 287.28, 287.44, 287.34, 287.50, 287.38, 287.30, 287.46, 287.36,
  287.44, 287.38, 287.30, 287.46, 287.54, 287.40, 287.48, 287.36, 287.44, 287.58,
  287.30, 287.40, 287.34, 287.46, 287.40, 287.32, 287.44, 287.38, 287.50, 287.36,
  287.44, 287.48, 287.36, 287.42, 287.52, 287.44, 287.50, 287.58, 287.48, 287.54,
  287.46, 287.54, 287.60, 287.52, 287.58, 287.66, 287.56, 287.62, 287.70, 287.58,
  287.50, 287.46, 287.54, 287.64, 287.58, 287.70, 287.82, 287.78, 287.92, 287.88,
  288.00, 287.96, 287.84, 287.92, 288.06, 288.14, 288.10, 288.22, 288.30, 288.20,
  288.28, 288.40, 288.36, 288.48, 288.44, 288.56, 288.52, 288.64, 288.60, 288.72,
  288.66, 288.78, 288.74, 288.84, 288.76
];
const aa02_m4 = [
  286.98, 287.08, 286.96, 286.86, 286.94, 287.06, 287.12, 287.02, 286.92, 287.00,
  287.10, 287.04, 286.94, 287.00, 287.12, 287.20, 287.08, 286.98, 287.04, 287.16,
  287.24, 287.14, 287.04, 287.10, 287.22, 287.28, 287.16, 287.06, 287.12, 287.22,
  287.14, 287.04, 287.12, 286.98, 286.84, 286.94, 287.10, 287.20, 287.08, 287.00,
  287.12, 287.22, 287.10, 287.02, 287.08, 287.18, 287.28, 287.16, 287.08, 287.14,
  287.26, 287.18, 287.08, 287.02, 287.14, 287.24, 287.16, 287.08, 287.20, 287.30,
  287.20, 287.10, 287.18, 287.30, 287.40, 287.26, 287.16, 287.22, 287.36, 287.28,
  287.18, 287.26, 287.40, 287.32, 287.22, 287.30, 287.44, 287.52, 287.36, 287.26,
  287.34, 287.46, 287.38, 287.26, 287.36, 287.50, 287.42, 287.32, 287.44, 287.56,
  287.46, 287.34, 287.42, 287.56, 287.48, 287.38, 287.30, 287.44, 287.58, 287.50,
  287.40, 287.52, 287.62, 287.48, 287.36, 287.30, 287.42, 287.56, 287.46, 287.34,
  287.42, 287.56, 287.64, 287.50, 287.40, 287.46, 287.60, 287.70, 287.54, 287.44,
  287.52, 287.66, 287.56, 287.46, 287.58, 287.70, 287.80, 287.64, 287.54, 287.68,
  287.76, 287.60, 287.50, 287.64, 287.80, 287.92, 287.82, 287.74, 287.90, 288.04,
  288.12, 287.98, 287.86, 287.98, 288.14, 288.24, 288.12, 288.06, 288.30, 288.40,
  288.34, 288.28, 288.46, 288.56, 288.44, 288.38, 288.58, 288.70, 288.62, 288.52,
  288.66, 288.78, 288.70, 288.82, 288.88
];

// Least-squares trends of the ensemble means over 1951-1980 and 1981-2010 (endpoint values)
const trendPeriods = [[1951, 1980], [1981, 2010]];
const trend15 = [[286.86, 286.48], [286.55, 287.36]];
const trend10 = [[286.92, 286.82], [286.87, 287.73]];
const trend07 = [[287.03, 286.99], [286.98, 288.11]];
const trend04 = [[287.24, 287.32], [287.31, 288.35]];
const trend02 = [[287.34, 287.56], [287.48, 288.60]];

const yTicks = [286.0, 286.5, 287.0, 287.5, 288.0, 288.5, 289.0];
const xTicks = [1830, 1860, 1890, 1920, 1950, 1980, 2010, 2040];

const groups = {
  '1.5': { members: [aa15_m1, aa15_m2, aa15_m3, aa15_m4], trend: trend15 },
  '1':   { members: [aa10_m1, aa10_m2, aa10_m3, aa10_m4], trend: trend10 },
  '0.7': { members: [aa07_m1, aa07_m2, aa07_m3, aa07_m4], trend: trend07 },
  '0.4': { members: [aa04_m1, aa04_m2, aa04_m3, aa04_m4], trend: trend04 },
  '0.2': { members: [aa02_m1, aa02_m2, aa02_m3, aa02_m4], trend: trend02 }
};
const colorOf = {};
scalingFactors.forEach((f, i) => { colorOf[f] = factorColors[i]; });

// ensemble spaghetti first (weakest aerosol forcing at the back), then the trend segments on top
const drawOrder = ['0.2', '0.4', '0.7', '1.5', '1'];
const series = [];
drawOrder.forEach((f, gi) => {
  groups[f].members.forEach((vals) => {
    series.push({
      type: 'line',
      name: f,
      data: vals.map((v, i) => [startYear + i, v]),
      showSymbol: false,
      silent: true,
      z: 2 + gi * 0.01,
      itemStyle: { color: colorOf[f] },
      lineStyle: { color: colorOf[f], width: 2, opacity: 0.62 }
    });
  });
});
drawOrder.forEach((f) => {
  groups[f].trend.forEach((seg, si) => {
    series.push({
      type: 'line',
      name: f,
      data: [[trendPeriods[si][0], seg[0]], [trendPeriods[si][1], seg[1]]],
      showSymbol: false,
      silent: true,
      z: 5,
      itemStyle: { color: colorOf[f] },
      lineStyle: { color: colorOf[f], width: 5, opacity: 1, cap: 'round' }
    });
  });
});

const chart = echarts.init(document.getElementById('chart'), null, { renderer: 'canvas' });
chart.setOption({
  animation: false,
  backgroundColor: '#ffffff',
  textStyle: { fontFamily: FONT },
  grid: {
    left: 293, right: 59, top: 28, bottom: 103,
    show: true, borderColor: '#000', borderWidth: 3, backgroundColor: 'transparent'
  },
  xAxis: {
    type: 'value',
    min: xTicks[0], max: xTicks[xTicks.length - 1], interval: 30,
    axisLine: { show: true, onZero: false, lineStyle: { color: '#000', width: 3 } },
    axisTick: { show: true, length: 27, lineStyle: { color: '#000', width: 3 } },
    minorTick: { show: true, splitNumber: 3, length: 13, lineStyle: { color: '#000', width: 2.5 } },
    splitLine: { show: false },
    axisLabel: { margin: 56, fontSize: 46, color: '#000', fontFamily: FONT, formatter: (v) => String(v) }
  },
  yAxis: {
    type: 'value',
    min: yTicks[0], max: yTicks[yTicks.length - 1], interval: 0.5,
    name: 'Temperature [K]',
    nameLocation: 'middle',
    nameGap: 216,
    nameTextStyle: { fontSize: 58, color: '#000', fontFamily: FONT },
    axisLine: { show: true, lineStyle: { color: '#000', width: 3 } },
    axisTick: { show: true, length: 27, lineStyle: { color: '#000', width: 3 } },
    minorTick: { show: true, splitNumber: 5, length: 13, lineStyle: { color: '#000', width: 2.5 } },
    splitLine: { show: false },
    axisLabel: { margin: 59, fontSize: 46, color: '#000', fontFamily: FONT, formatter: (v) => v.toFixed(1) }
  },
  legend: {
    orient: 'vertical',
    left: 334,
    top: 111,
    icon: 'roundRect',
    itemWidth: 233,
    itemHeight: 4,
    itemGap: 17.7,
    selectedMode: false,
    data: scalingFactors.map((f, i) => ({ name: f, itemStyle: { color: factorColors[i], opacity: 1 } })),
    textStyle: { fontSize: 36, color: '#000', fontFamily: FONT, lineHeight: 40, padding: [0, 0, 0, 14] }
  },
  graphic: [
    { type: 'text', left: 301, top: 53, silent: true,
      style: { text: 'AA emissions scaling factor', fontSize: 31, fill: '#000', fontFamily: FONT } },
    { type: 'text', x: 1026, y: 320, silent: true,
      style: { text: 'Warming', fontSize: 40, fill: '#ffbf00', fontFamily: FONT, verticalAlign: 'middle' } },
    { type: 'text', x: 1026, y: 725, silent: true,
      style: { text: 'Cooling', fontSize: 39, fill: '#00668c', fontFamily: FONT, verticalAlign: 'middle' } },
    { type: 'text', x: 1418, y: 564, silent: true,
      style: { text: 'Rapid', fontSize: 39, fill: '#ff0000', fontFamily: FONT, verticalAlign: 'middle' } },
    { type: 'text', x: 1418, y: 612, silent: true,
      style: { text: 'warming', fontSize: 39, fill: '#ff0000', fontFamily: FONT, verticalAlign: 'middle' } }
  ],
  series: series
});
</script>
</body>
</html>
